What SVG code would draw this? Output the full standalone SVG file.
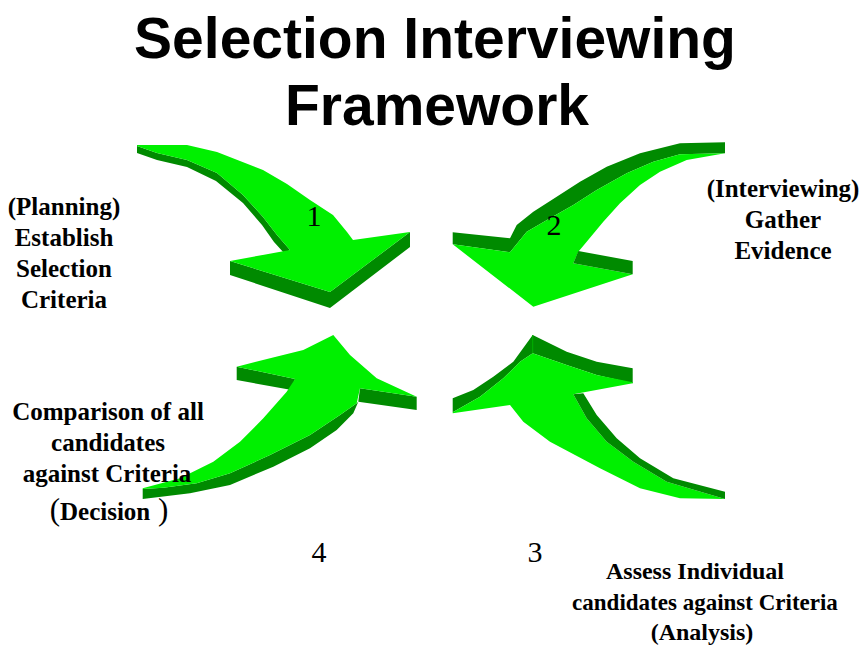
<svg xmlns="http://www.w3.org/2000/svg" width="860" height="648" viewBox="0 0 860 648">
<style>
.top{fill:#00f000}
.side{fill:#008a00}
.title{font-family:"Liberation Sans",Arial,sans-serif;font-weight:bold;font-size:57px;fill:#000;text-anchor:middle}
.lbl{font-family:"Liberation Serif","Times New Roman",serif;font-weight:bold;font-size:25px;fill:#000;text-anchor:middle}
.num{font-family:"Liberation Serif","Times New Roman",serif;font-size:30px;fill:#000;text-anchor:middle}
.paren{font-size:31px;font-weight:normal}
</style>
<rect width="860" height="648" fill="#fff"/>
<g id="title">
<text class="title" x="435" y="58">Selection Interviewing</text>
<text class="title" x="437" y="125">Framework</text>
</g>
<g id="arrows">
<g id="arrow1">
<polygon class="side" points="137,145 137,153 157,160 187,167 216,181 243,203 262,225 274,242 284,253 290,250 277,235 263,217 243,195 217,173 187,160 157,153 137,146"/>
<polygon class="side" points="230,261 230,275 330,308 410,247 410,232 330,292"/>
<polygon class="top" points="137,145 187,145 217,152 240,161 263,170 287,184 310,200 333,215 347,232 353,240 410,232 330,292 230,261 290,250 277,235 263,217 243,195 217,173 187,160 157,153 137,146"/>
<text class="num" x="314" y="226">1</text>
</g>
<g id="arrow2">
<polygon class="side" points="452.7,232.3 510,238.3 516.7,225 533.3,211.7 556.7,196.7 580,181.7 606.7,166.7 640,153.3 680,143.3 725,142.3 725,153.3 680,154.3 653.3,161.7 626.7,173.3 596.7,190 573.3,205 550,218.3 526.7,231.7 510,252.3 452.7,244.3"/>
<polygon class="top" points="452.7,244.3 510,252.3 526.7,231.7 550,218.3 573.3,205 596.7,190 626.7,173.3 653.3,161.7 680,154.3 725,153.3 686.7,160 660,171.7 640,185 620,203.3 603.3,221.7 586.7,241.7 578.3,251.7 573.3,263.3 632.7,274.3 533.3,306.7"/>
<polygon class="side" points="578.3,251 632.7,261 632.7,274.3 573.3,263.3"/>
<text class="num" x="554" y="235">2</text>
</g>
<g id="arrow3">
<polygon class="side" points="452.7,398.3 473.3,390 493.3,376.7 513.3,361.7 532.7,335 566.7,351.7 596.7,361.7 632.7,368.3 632.7,383.3 596.7,375 566.7,365 532.7,353.3 520,361.7 503.3,378.3 480,396.7 452.7,412.3"/>
<polygon class="top" points="452.7,412.3 480,396.7 503.3,378.3 520,361.7 532.7,353.3 566.7,365 596.7,375 632.7,382.3 632.7,383.3 573.3,394.3 586.7,418.3 606.7,441.7 633.3,461.7 666.7,481.7 725,499 680,498.3 640,488.3 600,468.3 550,441.7 523.3,421.7 510,405 452.7,413.3"/>
<polygon class="side" points="573.3,394.3 583.3,393.3 596.7,415 616.7,438.3 640,458.3 673.3,478.3 725,491.7 725,499 666.7,481.7 633.3,461.7 606.7,441.7 586.7,418.3"/>
<line x1="532.7" y1="335" x2="532.7" y2="353.3" stroke="#00b000" stroke-width="1"/>
</g>
<g id="arrow4">
<polygon class="side" points="358.3,401.7 353.3,413.3 336.7,430 310,448.3 273.3,466.7 230,485 190,493.3 142.7,499 142.7,489 163.3,487.7 196.7,483.3 230,473.3 270,455 310,435 340,415 356.7,403.3"/>
<polygon class="side" points="236.7,366.7 295,379 291.7,390 236.7,380"/>
<polygon class="side" points="360,388.3 416.7,396.7 416.7,410 358.3,401.7"/>
<polygon class="top" points="142.7,488.3 180,478.3 213.3,461.7 240,441.7 263.3,418.3 286.7,391.7 295,379 236.7,366.7 270,358.3 303.3,350 333.3,335 350,355 376.7,378.3 416.7,396.7 360,388.3 356.7,403.3 340,415 310,435 270,455 230,473.3 196.7,483.3 163.3,487.7 142.7,489"/>
</g>
</g>
<g id="numbers">
<text class="num" x="319" y="562">4</text>
<text class="num" x="535" y="562">3</text>
</g>
<g id="label-planning">
<text class="lbl" x="64" y="215">(Planning)</text>
<text class="lbl" x="64" y="246">Establish</text>
<text class="lbl" x="64" y="277">Selection</text>
<text class="lbl" x="64" y="308">Criteria</text>
</g>
<g id="label-interviewing">
<text class="lbl" x="783" y="197">(Interviewing)</text>
<text class="lbl" x="783" y="228">Gather</text>
<text class="lbl" x="783" y="259">Evidence</text>
</g>
<g id="label-decision">
<text class="lbl" x="108" y="420">Comparison of all</text>
<text class="lbl" x="108" y="451">candidates</text>
<text class="lbl" x="107" y="482">against Criteria</text>
<text class="lbl" x="109" y="520"><tspan class="paren">(</tspan>Decision<tspan class="paren"> )</tspan></text>
</g>
<g id="label-analysis">
<text class="lbl" x="695" y="579" style="font-size:24px">Assess Individual</text>
<text class="lbl" x="705" y="610" style="font-size:23px">candidates against Criteria</text>
<text class="lbl" x="702" y="640" style="font-size:24px">(Analysis)</text>
</g>
</svg>
